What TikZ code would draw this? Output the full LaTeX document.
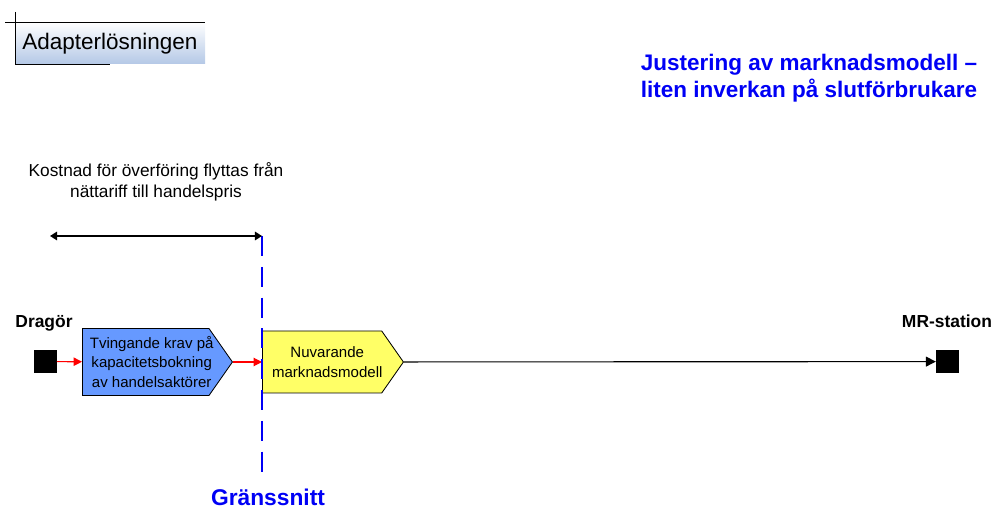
\documentclass[tikz,border=0pt]{standalone}
\usepackage{fontspec}
\setmainfont{Liberation Sans}
\usetikzlibrary{shapes.symbols,arrows.meta,positioning}
\definecolor{flowblue}{RGB}{102,153,255}
\definecolor{flowyellow}{RGB}{255,255,102}
\definecolor{titleblue}{RGB}{0,0,245}
\definecolor{tabblue}{RGB}{180,200,230}

\begin{document}
\begin{tikzpicture}[
    stage/.style={signal, signal to=east, signal pointer angle=110, draw=black, anchor=west,
                  line width=0.6pt, inner sep=1pt},
    stagetext/.style={align=center, inner sep=0pt, font=\fontsize{10.7}{14}\selectfont},
    station/.style={rectangle, fill=black, minimum size=0.575cm, inner sep=0pt},
    stationlabel/.style={font=\fontsize{12.4}{14}\selectfont\bfseries}
]
    \useasboundingbox (0,0) rectangle (24.825,12.7);
    % header tab
    \shade[top color=white, bottom color=tabblue] (0.375,11.1) rectangle (5.125,12.15);
    \draw (0.125,12.15) -- (5.125,12.15);
    \draw (0.375,12.4) -- (0.375,11.1) -- (2.75,11.1);
    \node[font=\fontsize{16}{19}\selectfont] (tab) at (2.75,11.6) {Adapterlösningen};
    \node[font=\fontsize{16}{19.2}\selectfont\bfseries, text=titleblue, align=left, anchor=west] (title) at (15.9,10.75)
        {Justering av marknadsmodell –\\liten inverkan på slutförbrukare};
    % stations
    \node[station] (dragor) at (1.125,3.66) {};
    \node[station] (mr) at (23.69,3.66) {};
    \node[stationlabel] (dragorlbl) at (1.1,4.625) {Dragör};
    \node[stationlabel] (mrlbl) at (23.675,4.675) {MR-station};
    % stages
    \node[stage, fill=flowblue, minimum width=3.75cm, minimum height=1.675cm] (krav) at (2.05,3.65) {};
    \node[stage, fill=flowyellow, minimum width=3.525cm, minimum height=1.55cm] (modell) at (6.55,3.65) {};
    \node[stagetext] (kravtext) at ([xshift=0.15cm]krav.center) {Tvingande krav på\\kapacitetsbokning\\av handelsaktörer};
    \node[stagetext] (modelltext) at ([xshift=0.13cm]modell.center) {Nuvarande\\marknadsmodell};
    \draw[red, line width=0.8pt, -{Triangle[length=6pt,width=6pt]}] (dragor) -- (krav);
    \draw[red, line width=0.8pt, -{Triangle[length=6pt,width=6pt]}] (krav) -- (modell.west);
    \draw[line width=0.8pt, -{Triangle[length=7pt,width=7pt]}] (modell) -- (mr);
    % interface
    \coordinate (cuttop) at (6.55,6.8);
    \coordinate (cutbot) at (6.55,0.75);
    \coordinate (costleft) at (1.25,6.8);
    \draw[titleblue, line width=1.6pt, dash pattern=on 0.5cm off 0.27cm] (cuttop) -- (cutbot);
    \draw[line width=1.2pt, {Triangle[length=5pt,width=6pt]}-{Triangle[length=5pt,width=6pt]}] (costleft) -- (cuttop);
    \node[font=\fontsize{12.3}{15}\selectfont, align=center] (cost) at (3.9,8.15)
        {Kostnad för överföring flyttas från\\nättariff till handelspris};
    \node[font=\fontsize{16.2}{19}\selectfont\bfseries, text=titleblue] (cut) at (6.7,0.275) {Gränssnitt};
\end{tikzpicture}
\end{document}
